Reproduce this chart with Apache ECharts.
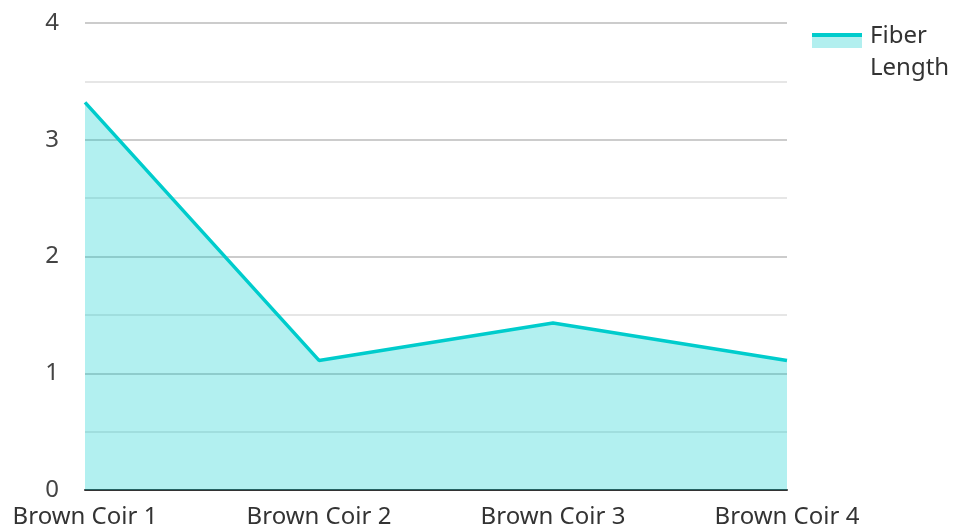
<!DOCTYPE html>
<html>
<head>
<meta charset="utf-8">
<script src="https://cdn.jsdelivr.net/npm/echarts@6/dist/echarts.min.js"></script>
<style>html,body{margin:0;padding:0;background:#fff;}#c{width:955px;height:531px;}</style>
</head>
<body>
<div id="c"></div>
<script>
const categories = ['Brown Coir 1', 'Brown Coir 2', 'Brown Coir 3', 'Brown Coir 4'];
const fiberLength = [3.32, 1.11, 1.43, 1.11];
const seriesName = 'Fiber Length';
const yTicks = [0, 1, 2, 3, 4];

const chart = echarts.init(document.getElementById('c'), null, {renderer: 'canvas'});
const font = 'Noto Sans';
chart.setOption({
  animation: false,
  backgroundColor: '#fff',
  grid: {left: 85, right: 168, top: 23, bottom: 41, containLabel: false},
  legend: {
    show: true,
    left: 812,
    top: 20,
    padding: 0,
    orient: 'vertical',
    icon: 'path://M0,0 L50,0 L50,15 L0,15 Z M53,38 L53.01,38 L53.01,37.99 Z',
    itemWidth: 53,
    itemHeight: 38,
    itemGap: 8,
    itemStyle: {color: '#b2efef'},
    formatter: function (n) { return n.replace(' ', '\n'); },
    textStyle: {fontFamily: font, fontSize: 24, color: '#333', lineHeight: 32},
    data: [seriesName]
  },
  xAxis: {
    type: 'category',
    data: categories,
    boundaryGap: false,
    axisLine: {lineStyle: {color: '#333', width: 2}},
    axisTick: {show: false},
    axisLabel: {fontFamily: font, fontSize: 24, color: '#333', margin: 15},
    splitLine: {show: false}
  },
  yAxis: {
    type: 'value',
    min: yTicks[0],
    max: yTicks[yTicks.length - 1],
    interval: 1,
    axisLine: {show: false},
    axisTick: {show: false},
    axisLabel: {fontFamily: font, fontSize: 24, color: '#444', margin: 26},
    splitLine: {lineStyle: {color: '#cccccc', width: 2}},
    minorTick: {show: false, splitNumber: 2},
    minorSplitLine: {show: true, lineStyle: {color: '#e6e6e6', width: 2}}
  },
  series: [{
    name: seriesName,
    type: 'line',
    data: fiberLength,
    symbol: 'none',
    lineStyle: {color: '#00cccc', width: 3.5},
    itemStyle: {color: '#00cccc'},
    areaStyle: {color: '#00cccc', opacity: 0.3},
    z: 3
  }],
  graphic: [{
    type: 'rect',
    left: 812, top: 33,
    shape: {width: 50, height: 4},
    style: {fill: '#00cccc'},
    z: 100
  }]
});
</script>
</body>
</html>
